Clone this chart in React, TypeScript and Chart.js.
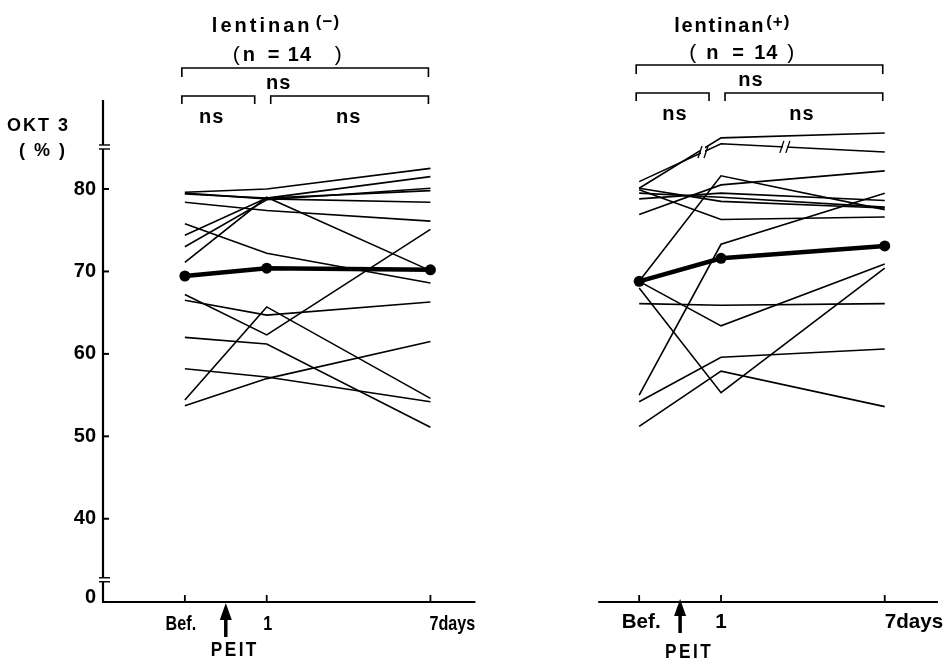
import React, { useEffect, useRef } from "react";
import { Chart, registerables } from "chart.js";
Chart.register(...registerables);

// ---- data ----
const timeLabels = ["Bef.", "1", "7days"];
const leftX = [0, 1, 3];
const rightX = [5.55, 6.55, 8.55];
const yTickValues = [30.5, 40, 50, 60, 70, 80];
const yTickLabels = ["0", "40", "50", "60", "70", "80"];
const panelTitles = ["lentinan", "lentinan"];
const panelSigns = ["(−)", "(+)"];
const panelN = ["14", "14"];
const yAxisTitle = ["OKT 3", "( % )"];
const treatLabel = "PEIT";
const sigLabel = "ns";

const minusMean = [69.45, 70.4, 70.2];
const minusSubjects: number[][] = [
  [79.6, 80.0, 82.5],
  [79.5, 78.8, 78.4],
  [79.4, 78.9, 79.8],
  [78.4, 77.4, 76.1],
  [74.4, 78.9, 81.5],
  [73.0, 78.7, 80.1],
  [71.1, 79.0, 70.1],
  [75.8, 72.2, 68.6],
  [67.2, 62.3, 75.1],
  [66.5, 64.7, 66.3],
  [62.0, 61.2, 51.1],
  [58.2, 57.2, 54.2],
  [54.4, 65.7, 54.6],
  [53.7, 57.0, 61.5],
];

const plusMean = [68.8, 71.6, 73.1];
const plusSubjects: number[][] = [
  [80.9, 85.5, 84.5],
  [80.1, 86.2, 86.8],
  [79.9, 76.3, 76.6],
  [78.8, 79.5, 78.6],
  [76.9, 80.5, 82.2],
  [68.8, 81.6, 77.5],
  [80.1, 78.5, 77.7],
  [55.0, 73.3, 79.5],
  [68.8, 63.4, 70.9],
  [68.0, 55.3, 70.4],
  [66.1, 65.9, 66.1],
  [54.2, 59.6, 60.6],
  [51.2, 57.9, 53.6],
  [79.5, 79.0, 77.8],
];

const xTickValues = [...leftX, ...rightX];
const xTickLabels = [...timeLabels, ...timeLabels];

const FONT = '"Liberation Sans", Arial, Helvetica, sans-serif';

function pts(xs: number[], ys: number[]) {
  return xs.map((x, i) => ({ x, y: ys[i] }));
}

const decor = {
  id: "decor",
  afterDraw(chart: any) {
    const { ctx, chartArea: ca, scales } = chart;
    const xs = scales.x;
    const ys = scales.y;
    const px = (v: number) => xs.getPixelForValue(v);
    const py = (v: number) => ys.getPixelForValue(v);
    ctx.save();
    ctx.strokeStyle = "#000";
    ctx.fillStyle = "#000";
    ctx.lineCap = "butt";
    const seg = (x1: number, y1: number, x2: number, y2: number, w = 2) => {
      ctx.lineWidth = w;
      ctx.beginPath();
      ctx.moveTo(x1, y1);
      ctx.lineTo(x2, y2);
      ctx.stroke();
    };
    const text = (
      s: string,
      x: number,
      y: number,
      font: string,
      align: CanvasTextAlign = "left",
      spacing = 0,
      sx = 1
    ) => {
      ctx.save();
      ctx.font = font;
      (ctx as any).letterSpacing = spacing + "px";
      ctx.textAlign = align;
      ctx.textBaseline = "alphabetic";
      ctx.translate(x, y);
      ctx.scale(sx, 1);
      ctx.fillText(s, 0, 0);
      ctx.restore();
    };

    const bottom = ca.bottom;
    // y axis
    seg(ca.left, ca.top, ca.left, bottom, 2.2);
    // y ticks
    yTickValues.forEach((v, i) => {
      if (yTickLabels[i] === "0") return;
      seg(ca.left, py(v), ca.left + 6, py(v), 2);
    });
    // y breaks
    [85.1, 32.6].forEach((v) => {
      const yy = py(v);
      ctx.fillStyle = "#fff";
      ctx.fillRect(ca.left - 3, yy - 2, 6, 4);
      ctx.fillStyle = "#000";
      seg(ca.left - 4, yy - 2, ca.left + 7, yy - 2, 1.4);
      seg(ca.left - 4, yy + 2, ca.left + 7, yy + 2, 1.4);
    });
    // x axis segments
    seg(ca.left - 1, bottom, px(3.55), bottom, 2.2);
    seg(px(5.05), bottom, px(9.2), bottom, 2.2);
    xTickValues.forEach((v) => seg(px(v), bottom, px(v), bottom - 7, 1.8));

    // y axis title
    text(yAxisTitle[0], 70, 131, "bold 18px " + FONT, "right", 2);
    text(yAxisTitle[1], 67, 156, "bold 18px " + FONT, "right", 2);

    // per panel decorations
    const panels = [
      { xs: leftX, t: 0, sOff: 131, tSp: 3, nOff: [48, 58, 83, 103, 150], tOff: 27, yTop: 68, yMid: 96, nsOff: [-29, -96, 41], yShift: 0,
        lab: { sx: 0.77, off: [-4, 1, -1], base: 630 }, arrow: { x: 0.5, tip: 603, end: 637 }, peit: { x: 0.61, base: 656 } },
      { xs: rightX, t: 1, sOff: 127, tSp: 1.8, nOff: [50, 67, 93, 115, 148], tOff: 35, yTop: 65, yMid: 93, nsOff: [-11, -87, 40], yShift: -2,
        lab: { sx: 0.98, off: [2, 0, 0], base: 628 }, arrow: { x: 0.5, tip: 599, end: 633 }, peit: { x: 0.61, base: 658 } },
    ];
    panels.forEach((p, pi) => {
      const p0 = px(p.xs[0]);
      const p1 = px(p.xs[1]);
      const p7 = px(p.xs[2]);
      // x tick labels
      const lf = "bold 21px " + FONT;
      text(xTickLabels[pi * 3], p0 + p.lab.off[0], p.lab.base, lf, "center", 0, p.lab.sx);
      text(xTickLabels[pi * 3 + 1], p1 + p.lab.off[1], p.lab.base, lf, "center", 0, p.lab.sx);
      text(xTickLabels[pi * 3 + 2], p7 + p.lab.off[2], p.lab.base, lf, "left", 0, p.lab.sx);
      // title
      text(panelTitles[p.t], p0 + p.tOff, 32, "bold 20px " + FONT, "left", p.tSp);
      text(panelSigns[p.t], p0 + p.sOff, 27, "bold 17px " + FONT, "left", 1);
      const nb = 61 + p.yShift;
      text("(", p0 + p.nOff[0], nb, "21px " + FONT);
      text("n", p0 + p.nOff[1], nb, "bold 20px " + FONT);
      text("=", p0 + p.nOff[2], nb, "bold 20px " + FONT);
      text(panelN[p.t], p0 + p.nOff[3], nb, "bold 20px " + FONT, "left", 1);
      text(")", p0 + p.nOff[4], nb, "21px " + FONT);
      // brackets
      const a = p0 - 3;
      const b = p7 - 2;
      ctx.lineWidth = 1.6;
      ctx.beginPath();
      ctx.moveTo(a, p.yTop + 9);
      ctx.lineTo(a, p.yTop);
      ctx.lineTo(b, p.yTop);
      ctx.lineTo(b, p.yTop + 9);
      ctx.stroke();
      ctx.beginPath();
      ctx.moveTo(a, p.yMid + 8);
      ctx.lineTo(a, p.yMid);
      ctx.lineTo(p1 - 12, p.yMid);
      ctx.lineTo(p1 - 12, p.yMid + 8);
      ctx.stroke();
      ctx.beginPath();
      ctx.moveTo(p1 + 4, p.yMid + 8);
      ctx.lineTo(p1 + 4, p.yMid);
      ctx.lineTo(b, p.yMid);
      ctx.lineTo(b, p.yMid + 8);
      ctx.stroke();
      const mid = (p0 + p7) / 2;
      text(sigLabel, mid + p.nsOff[0], p.yTop + 21, "bold 20px " + FONT, "center", 1);
      text(sigLabel, mid + p.nsOff[1], p.yMid + 27, "bold 20px " + FONT, "center", 1);
      text(sigLabel, mid + p.nsOff[2], p.yMid + 27, "bold 20px " + FONT, "center", 1);
      // PEIT arrow
      const ax = px(p.xs[0] + p.arrow.x);
      ctx.beginPath();
      ctx.moveTo(ax, p.arrow.tip);
      ctx.lineTo(ax - 6, p.arrow.tip + 17);
      ctx.lineTo(ax + 6, p.arrow.tip + 17);
      ctx.closePath();
      ctx.fill();
      seg(ax, p.arrow.tip + 15, ax, p.arrow.end, 3.5);
      text(treatLabel, px(p.xs[0] + p.peit.x), p.peit.base, "bold 21px " + FONT, "center", 3, 0.82);
    });

    // break marks on the top line of the (+) panel
    const meta = chart.getDatasetMeta(2 + minusSubjects.length);
    if (meta && meta.data.length === 3) {
      const d = meta.data;
      const marks = [
        [d[0], d[1], 0.78],
        [d[1], d[2], 0.39],
      ];
      marks.forEach(([s, e, f]: any) => {
        const mx = s.x + (e.x - s.x) * f;
        const my = s.y + (e.y - s.y) * f;
        ctx.fillStyle = "#fff";
        ctx.fillRect(mx - 2, my - 5, 4, 10);
        ctx.fillStyle = "#000";
        seg(mx - 5, my + 6, mx - 1, my - 6, 1.3);
        seg(mx + 1, my + 6, mx + 5, my - 6, 1.3);
      });
    }
    ctx.restore();
  },
};

export default function App() {
  const ref = useRef<HTMLCanvasElement | null>(null);
  useEffect(() => {
    if (!ref.current) return;
    const thin = (xs: number[], ys: number[]) => ({
      data: pts(xs, ys),
      borderColor: "#000",
      borderWidth: 1.6,
      pointRadius: 0,
      fill: false,
      tension: 0,
    });
    const heavy = (xs: number[], ys: number[]) => ({
      data: pts(xs, ys),
      borderColor: "#000",
      borderWidth: 4.5,
      pointRadius: 5.5,
      pointBackgroundColor: "#000",
      pointBorderWidth: 0,
      fill: false,
      tension: 0,
    });
    const datasets: any[] = [
      heavy(leftX, minusMean),
      heavy(rightX, plusMean),
      ...minusSubjects.map((s) => thin(leftX, s)),
      ...plusSubjects.map((s) => thin(rightX, s)),
    ];
    const chart = new Chart(ref.current, {
      type: "line",
      data: { datasets },
      options: {
        responsive: false,
        animation: false,
        layout: { padding: { top: 100, right: 3, left: 0, bottom: 0 } },
        plugins: { legend: { display: false }, tooltip: { enabled: false } },
        scales: {
          x: {
            type: "linear",
            min: -1,
            max: 9.28,
            grid: { display: false, drawTicks: false },
            border: { display: false },
            afterBuildTicks: (s: any) => {
              s.ticks = xTickValues.map((v) => ({ value: v }));
            },
            afterFit: (s: any) => {
              s.height = 57;
            },
            ticks: { display: false },
          },
          y: {
            type: "linear",
            min: 29.9,
            max: 90.8,
            grid: { display: false, drawTicks: false },
            border: { display: false },
            afterBuildTicks: (s: any) => {
              s.ticks = yTickValues.map((v) => ({ value: v }));
            },
            afterFit: (s: any) => {
              s.width = 103;
            },
            ticks: {
              padding: 7,
              color: "#000",
              font: { family: FONT, size: 20, weight: "bold" },
              callback: (_v: any, i: number) => yTickLabels[i],
            },
          },
        },
      },
      plugins: [decor],
    });
    return () => chart.destroy();
  }, []);
  return (
    <div style={{ position: "fixed", left: 0, top: 0, width: 950, height: 659, background: "#fff" }}>
      <canvas ref={ref} width={950} height={659} style={{ display: "block" }} />
    </div>
  );
}
